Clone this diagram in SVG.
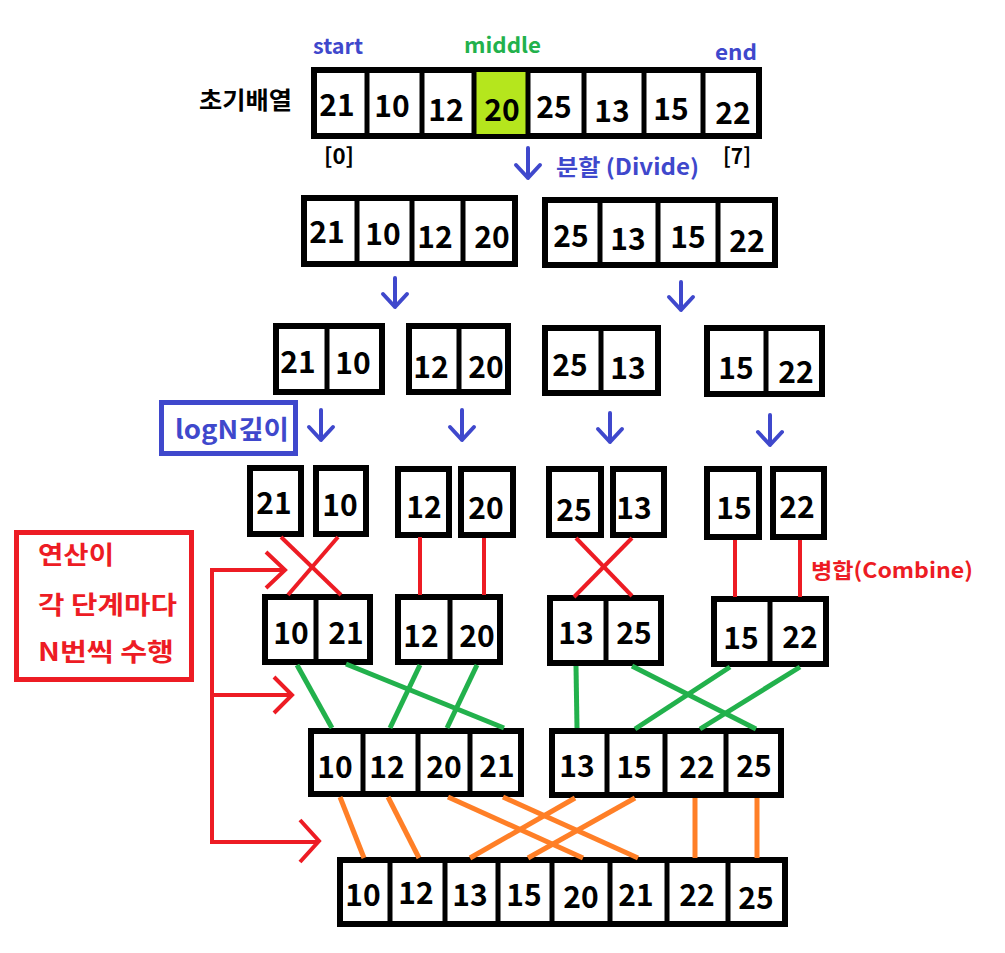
<svg xmlns="http://www.w3.org/2000/svg" width="1005" height="953" viewBox="0 0 1005 953">
<style>
.box{fill:#fff;stroke:#000;stroke-width:6}
.div{stroke:#000;stroke-width:5}
.num{font-family:"Noto Sans CJK KR","Noto Sans",sans-serif;font-weight:600;font-size:30px;fill:#000;text-anchor:middle}
.lbl{font-family:"Noto Sans CJK KR","Noto Sans",sans-serif;font-weight:700}
.blue{fill:#3F48CC}
.green{fill:#22B14C}
.red{fill:#ED1C24}
.barrow{fill:none;stroke:#3F48CC;stroke-width:4;stroke-linecap:round;stroke-linejoin:round}
.rl{stroke:#ED1C24;stroke-width:4;fill:none}
.gl{stroke:#22B14C;stroke-width:5;fill:none}
.ol{stroke:#FF7F27;stroke-width:5;fill:none}
</style>
<rect width="1005" height="953" fill="#fff"/>

<!-- labels -->
<g id="labels">
<text class="lbl blue" x="313" y="54" font-size="21" textLength="50" lengthAdjust="spacingAndGlyphs">start</text>
<text class="lbl green" x="464" y="53" font-size="21" textLength="77" lengthAdjust="spacingAndGlyphs">middle</text>
<text class="lbl blue" x="715" y="60" font-size="21" textLength="42" lengthAdjust="spacingAndGlyphs">end</text>
<text class="lbl" x="199" y="109" font-size="24" textLength="93" lengthAdjust="spacingAndGlyphs">초기배열</text>
<text class="lbl" x="324" y="164" font-size="22" textLength="30" lengthAdjust="spacingAndGlyphs">[0]</text>
<text class="lbl" x="723" y="164" font-size="22" textLength="28" lengthAdjust="spacingAndGlyphs">[7]</text>
<text class="lbl blue" x="556" y="175" font-size="22" textLength="143" lengthAdjust="spacingAndGlyphs">분할 (Divide)</text>
<text class="lbl red" x="811" y="578" font-size="21" textLength="162" lengthAdjust="spacingAndGlyphs">병합(Combine)</text>
</g>

<!-- row 1 -->
<g id="row1">
<rect class="box" x="314" y="70" width="445" height="66"/>
<rect x="474" y="72" width="54" height="62" fill="#B5E61D"/>
<line class="div" x1="367" y1="70" x2="367" y2="136"/>
<line class="div" x1="422" y1="70" x2="422" y2="136"/>
<line class="div" x1="474" y1="70" x2="474" y2="136"/>
<line class="div" x1="528" y1="70" x2="528" y2="136"/>
<line class="div" x1="584" y1="70" x2="584" y2="136"/>
<line class="div" x1="644" y1="70" x2="644" y2="136"/>
<line class="div" x1="703" y1="70" x2="703" y2="136"/>
<text class="num" x="337" y="116">21</text>
<text class="num" x="392" y="117">10</text>
<text class="num" x="446" y="121">12</text>
<text class="num" x="502" y="121">20</text>
<text class="num" x="554" y="118">25</text>
<text class="num" x="612" y="122">13</text>
<text class="num" x="671" y="120">15</text>
<text class="num" x="733" y="124">22</text>
</g>

<!-- row 2 -->
<g id="row2-left">
<rect class="box" x="304" y="198" width="211" height="66"/>
<line class="div" x1="357" y1="198" x2="357" y2="264"/>
<line class="div" x1="412" y1="198" x2="412" y2="264"/>
<line class="div" x1="463" y1="198" x2="463" y2="264"/>
<text class="num" x="327" y="243">21</text>
<text class="num" x="383" y="245">10</text>
<text class="num" x="435" y="248">12</text>
<text class="num" x="492" y="248">20</text>
</g>
<g id="row2-right">
<rect class="box" x="545" y="200" width="230" height="65"/>
<line class="div" x1="600" y1="200" x2="600" y2="265"/>
<line class="div" x1="658" y1="200" x2="658" y2="265"/>
<line class="div" x1="718" y1="200" x2="718" y2="265"/>
<text class="num" x="571" y="247">25</text>
<text class="num" x="628" y="250">13</text>
<text class="num" x="688" y="248">15</text>
<text class="num" x="747" y="252">22</text>
</g>

<!-- row 3 -->
<g id="row3-a">
<rect class="box" x="276" y="326" width="106" height="66"/>
<line class="div" x1="327" y1="326" x2="327" y2="392"/>
<text class="num" x="298" y="373">21</text>
<text class="num" x="353" y="374">10</text>
</g>
<g id="row3-b">
<rect class="box" x="409" y="326" width="99" height="66"/>
<line class="div" x1="459" y1="326" x2="459" y2="392"/>
<text class="num" x="431" y="378">12</text>
<text class="num" x="486" y="378">20</text>
</g>
<g id="row3-c">
<rect class="box" x="545" y="328" width="113" height="65"/>
<line class="div" x1="601" y1="328" x2="601" y2="393"/>
<text class="num" x="570" y="376">25</text>
<text class="num" x="628" y="379">13</text>
</g>
<g id="row3-d">
<rect class="box" x="707" y="328" width="115" height="66"/>
<line class="div" x1="766" y1="328" x2="766" y2="394"/>
<text class="num" x="736" y="379">15</text>
<text class="num" x="796" y="383">22</text>
</g>

<!-- logN box -->
<g id="logN">
<rect x="161.5" y="402.5" width="134" height="51" fill="none" stroke="#3F48CC" stroke-width="5"/>
<text class="lbl blue" x="175" y="439" font-size="26" textLength="114" lengthAdjust="spacingAndGlyphs">logN깊이</text>
</g>

<!-- row 4 -->
<g id="row4-21"><rect class="box" x="250" y="468" width="51" height="66"/><text class="num" x="274" y="514">21</text></g>
<g id="row4-10"><rect class="box" x="316" y="468" width="50" height="66"/><text class="num" x="340" y="516">10</text></g>
<g id="row4-12"><rect class="box" x="398" y="469" width="51" height="66"/><text class="num" x="424" y="518">12</text></g>
<g id="row4-20"><rect class="box" x="461" y="469" width="52" height="66"/><text class="num" x="486" y="519">20</text></g>
<g id="row4-25"><rect class="box" x="549" y="469" width="52" height="66"/><text class="num" x="574" y="521">25</text></g>
<g id="row4-13"><rect class="box" x="613" y="469" width="51" height="66"/><text class="num" x="634" y="519">13</text></g>
<g id="row4-15"><rect class="box" x="707" y="469" width="52" height="68"/><text class="num" x="734" y="519">15</text></g>
<g id="row4-22"><rect class="box" x="773" y="469" width="51" height="68"/><text class="num" x="797" y="518">22</text></g>

<!-- row 5 -->
<g id="row5-a">
<rect class="box" x="265" y="597" width="105" height="65"/>
<line class="div" x1="316" y1="597" x2="316" y2="662"/>
<text class="num" x="291" y="644">10</text>
<text class="num" x="346" y="644">21</text>
</g>
<g id="row5-b">
<rect class="box" x="398" y="597" width="102" height="65"/>
<line class="div" x1="450" y1="597" x2="450" y2="662"/>
<text class="num" x="421" y="647">12</text>
<text class="num" x="477" y="647">20</text>
</g>
<g id="row5-c">
<rect class="box" x="550" y="598" width="111" height="65"/>
<line class="div" x1="606" y1="598" x2="606" y2="663"/>
<text class="num" x="576" y="644">13</text>
<text class="num" x="634" y="644">25</text>
</g>
<g id="row5-d">
<rect class="box" x="714" y="599" width="112" height="65"/>
<line class="div" x1="770" y1="599" x2="770" y2="664"/>
<text class="num" x="741" y="649">15</text>
<text class="num" x="800" y="648">22</text>
</g>

<!-- row 6 -->
<g id="row6-left">
<rect class="box" x="311" y="731" width="210" height="63"/>
<line class="div" x1="363" y1="731" x2="363" y2="794"/>
<line class="div" x1="418" y1="731" x2="418" y2="794"/>
<line class="div" x1="470" y1="731" x2="470" y2="794"/>
<text class="num" x="335" y="778">10</text>
<text class="num" x="387" y="778">12</text>
<text class="num" x="444" y="778">20</text>
<text class="num" x="497" y="777">21</text>
</g>
<g id="row6-right">
<rect class="box" x="552" y="731" width="229" height="64"/>
<line class="div" x1="607" y1="731" x2="607" y2="795"/>
<line class="div" x1="665" y1="731" x2="665" y2="795"/>
<line class="div" x1="726" y1="731" x2="726" y2="795"/>
<text class="num" x="577" y="777">13</text>
<text class="num" x="634" y="778">15</text>
<text class="num" x="697" y="778">22</text>
<text class="num" x="754" y="777">25</text>
</g>

<!-- row 7 -->
<g id="row7">
<rect class="box" x="340" y="860" width="445" height="64"/>
<line class="div" x1="390" y1="860" x2="390" y2="924"/>
<line class="div" x1="445" y1="860" x2="445" y2="924"/>
<line class="div" x1="498" y1="860" x2="498" y2="924"/>
<line class="div" x1="552" y1="860" x2="552" y2="924"/>
<line class="div" x1="610" y1="860" x2="610" y2="924"/>
<line class="div" x1="667" y1="860" x2="667" y2="924"/>
<line class="div" x1="728" y1="860" x2="728" y2="924"/>
<text class="num" x="363" y="906">10</text>
<text class="num" x="416" y="904">12</text>
<text class="num" x="470" y="906">13</text>
<text class="num" x="524" y="906">15</text>
<text class="num" x="581" y="908">20</text>
<text class="num" x="636" y="906">21</text>
<text class="num" x="697" y="906">22</text>
<text class="num" x="756" y="909">25</text>
</g>

<!-- red note box -->
<g id="note">
<rect x="16.5" y="532.5" width="175" height="147" fill="none" stroke="#ED1C24" stroke-width="5"/>
<text class="lbl red" x="38" y="564" font-size="25" textLength="76" lengthAdjust="spacingAndGlyphs">연산이</text>
<text class="lbl red" x="38" y="614" font-size="25" textLength="139" lengthAdjust="spacingAndGlyphs">각 단계마다</text>
<text class="lbl red" x="38" y="661" font-size="25" textLength="136" lengthAdjust="spacingAndGlyphs">N번씩 수행</text>
</g>

<!-- connectors -->
<g id="connectors">
<g id="divide-arrows" class="barrow">
<path d="M528 148V178M516 165L528 178L540 165"/>
<path d="M395 278V307M383 294L395 307L407 294"/>
<path d="M681 282V310M669 297L681 310L693 297"/>
<path d="M321 410V440M309 427L321 440L333 427"/>
<path d="M462 410V440M450 427L462 440L474 427"/>
<path d="M610 413V442M598 429L610 442L622 429"/>
<path d="M770 415V445M758 432L770 445L782 432"/>
</g>
<g id="merge1">
<line class="rl" x1="281" y1="537" x2="341" y2="595"/>
<line class="rl" x1="338" y1="537" x2="288" y2="595"/>
<line class="rl" x1="420" y1="537" x2="420" y2="595"/>
<line class="rl" x1="484" y1="538" x2="484" y2="595"/>
<line class="rl" x1="576" y1="538" x2="632" y2="596"/>
<line class="rl" x1="632" y1="538" x2="574" y2="597"/>
<line class="rl" x1="735" y1="540" x2="735" y2="597"/>
<line class="rl" x1="800" y1="540" x2="800" y2="597"/>
</g>
<g id="merge2">
<line class="gl" x1="297" y1="665" x2="332" y2="728"/>
<line class="gl" x1="346" y1="664" x2="504" y2="728"/>
<line class="gl" x1="420" y1="665" x2="390" y2="728"/>
<line class="gl" x1="477" y1="665" x2="447" y2="728"/>
<line class="gl" x1="576" y1="666" x2="577" y2="728"/>
<line class="gl" x1="632" y1="666" x2="756" y2="729"/>
<line class="gl" x1="730" y1="667" x2="635" y2="729"/>
<line class="gl" x1="800" y1="667" x2="700" y2="729"/>
</g>
<g id="merge3">
<line class="ol" x1="340" y1="797" x2="364" y2="858"/>
<line class="ol" x1="388" y1="797" x2="419" y2="858"/>
<line class="ol" x1="448" y1="797" x2="583" y2="858"/>
<line class="ol" x1="503" y1="797" x2="638" y2="858"/>
<line class="ol" x1="575" y1="798" x2="470" y2="858"/>
<line class="ol" x1="635" y1="798" x2="528" y2="858"/>
<line class="ol" x1="695" y1="798" x2="695" y2="858"/>
<line class="ol" x1="757" y1="798" x2="757" y2="858"/>
</g>
<g id="step-arrows" fill="none" stroke="#ED1C24" stroke-width="4">
<path d="M285 570H212V842H319"/>
<path d="M212 695H292"/>
<path d="M266 552L285 570L266 588"/>
<path d="M274 677L292 695L274 713"/>
<path d="M300 820L319 841L300 862"/>
</g>
</g>
</svg>
